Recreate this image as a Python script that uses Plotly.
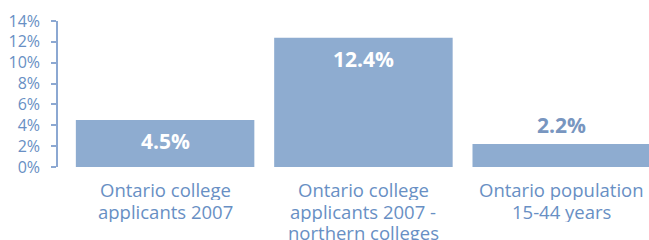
import plotly.graph_objects as go

category_lines = [
    ["Ontario college", "applicants 2007"],
    ["Ontario college", "applicants 2007 -", "northern colleges"],
    ["Ontario population", "15-44 years"],
]
values = [4.5, 12.4, 2.2]
value_labels = ["4.5%", "12.4%", "2.2%"]
tick_vals = [0, 2, 4, 6, 8, 10, 12, 14]
tick_text = ["0%", "2%", "4%", "6%", "8%", "10%", "12%", "14%"]

bar_color = "rgb(142,172,208)"
label_color = "rgb(104,143,196)"
font_family = "Open Sans, Noto Sans, sans-serif"

x_idx = list(range(len(values)))

fig = go.Figure()
fig.add_trace(go.Bar(x=x_idx, y=values, marker_color=bar_color,
                     marker_line_width=0, width=0.9, hoverinfo="skip"))

for i, (v, t) in enumerate(zip(values, value_labels)):
    inside = v > 4
    fig.add_annotation(x=i, y=v, text="<b>" + t + "</b>", showarrow=False,
                       yanchor="top" if inside else "bottom",
                       yshift=-5 if inside else 3,
                       font=dict(family=font_family, size=21,
                                 color="white" if inside else "rgb(120,150,192)"))

line_step = 21.5
for i, lines in enumerate(category_lines):
    for j, line in enumerate(lines):
        fig.add_annotation(x=i, xref="x", y=0, yref="paper", text=line, showarrow=False,
                           yanchor="middle", yshift=-22.5 - j * line_step,
                           height=21, valign="middle",
                           font=dict(family=font_family, size=18.5, color=label_color))

fig.update_layout(
    width=649, height=240,
    margin=dict(l=58, r=0, t=21, b=73),
    plot_bgcolor="white", paper_bgcolor="white",
    showlegend=False,
    font=dict(family=font_family, color=label_color),
    xaxis=dict(range=[-0.54, 2.44], showticklabels=False, showgrid=False, zeroline=False,
               showline=False, ticks="", automargin=False),
    yaxis=dict(range=[0, 14], tickmode="array", tickvals=tick_vals, ticktext=tick_text,
               showgrid=False, zeroline=False, showline=True, linecolor="rgb(140,168,210)",
               linewidth=1.5, ticks="outside", ticklen=5, tickcolor="rgb(140,168,210)",
               tickwidth=1.5, tickfont=dict(size=16, color=label_color), ticklabelstandoff=8,
               automargin=False),
)
fig.write_html("out.html", config={"displayModeBar": False},
               post_script="document.body.style.margin='0';document.body.style.overflow='hidden';")
